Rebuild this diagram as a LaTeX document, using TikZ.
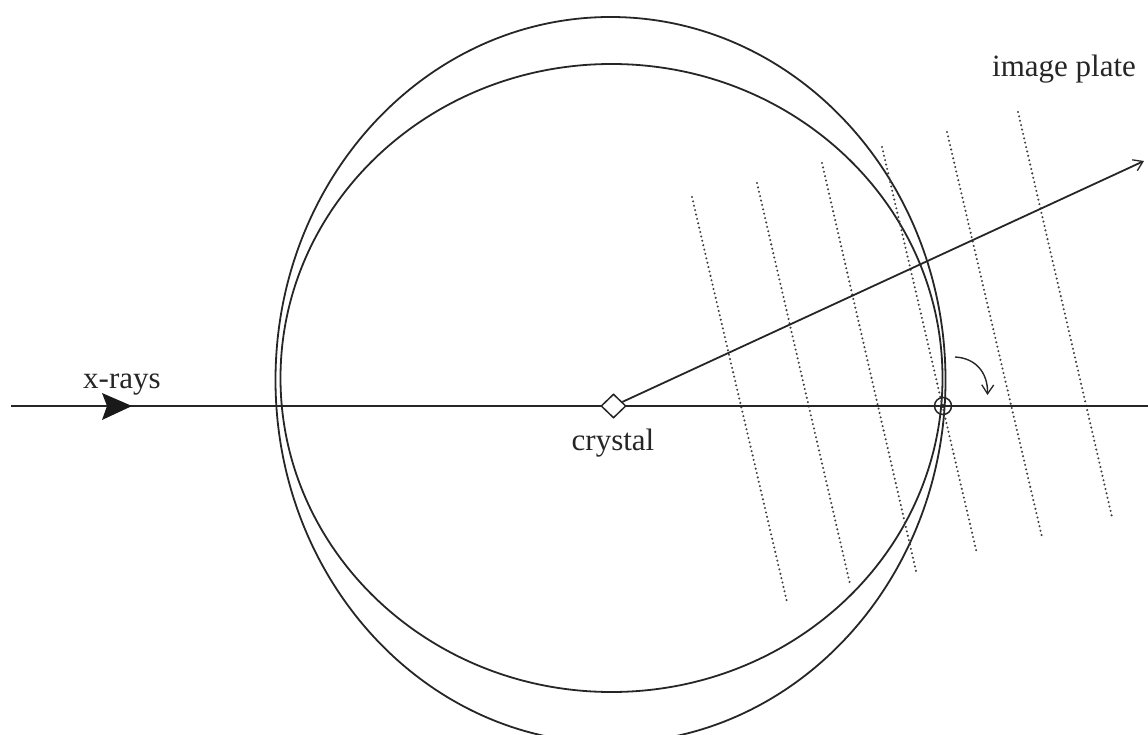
\documentclass[tikz,border=0pt]{standalone}
\usepackage{fontspec}
\setmainfont{Liberation Serif}
\usetikzlibrary{shapes.geometric,arrows.meta}
\begin{document}
\begin{tikzpicture}[x=1pt,y=-1pt,
  ln/.style={line width=1.8pt, draw=black!85},
  thin ln/.style={line width=1.4pt, draw=black!85},
  dots/.style={line width=2.3pt, draw=black!75, dash pattern=on 0pt off 4.5pt, line cap=round},
  lbl/.style={font=\fontsize{31}{37}\selectfont, text=black!85, inner sep=0pt},
  barb/.style={-{Straight Barb[length=9pt,width=12pt,line width=1.3pt]}}]
\useasboundingbox (0,0) rectangle (1148,735);
\clip (0,0) rectangle (1148,735);
% curves
\draw[ln] (610.5,380) ellipse [x radius=335, y radius=363];
\draw[ln] (611.5,378) ellipse [x radius=331, y radius=314];
% dotted reciprocal lattice lines
\draw[dots] (692,197) -- (787,602);
\draw[dots] (757,183) -- (850,584);
\draw[dots] (822,163) -- (916,571);
\draw[dots] (882,147) -- (977,554);
\draw[dots] (947,132) -- (1042,537);
\draw[dots] (1018,112) -- (1112,517);
% beam
\coordinate (src) at (11,406);
\coordinate (dst) at (1148,406);
\draw[ln] (src) -- (dst);
\fill[black!90] (132,406) -- (102,393) -- (107,406) -- (102,420) -- cycle;
% crystal
\node[diamond, draw=black!85, line width=1.5pt, fill=white, inner sep=0pt,
      minimum width=25pt, minimum height=24pt] (crystal) at (613.5,406) {};
\coordinate (tip) at (1144,161);
\draw[ln, barb] (crystal) -- (tip);
% origin marker
\node[circle, draw=black!85, line width=1.5pt, inner sep=0pt, minimum size=17pt] (O) at (943,406) {};
\fill[black!85] (O.center) circle (2pt);
% rotation arrow
\coordinate (r1) at (955,357);
\coordinate (r2) at (987.5,395);
\draw[thin ln, barb] (r1) .. controls (975,358) and (988,372) .. (r2);
% labels
\node[lbl, anchor=base west] (xr) at (83,388) {x-rays};
\node[lbl, anchor=base] (cl) at (613,450) {crystal};
\node[lbl, anchor=base west] (ip) at (992,77) {image plate};
\end{tikzpicture}
\end{document}
